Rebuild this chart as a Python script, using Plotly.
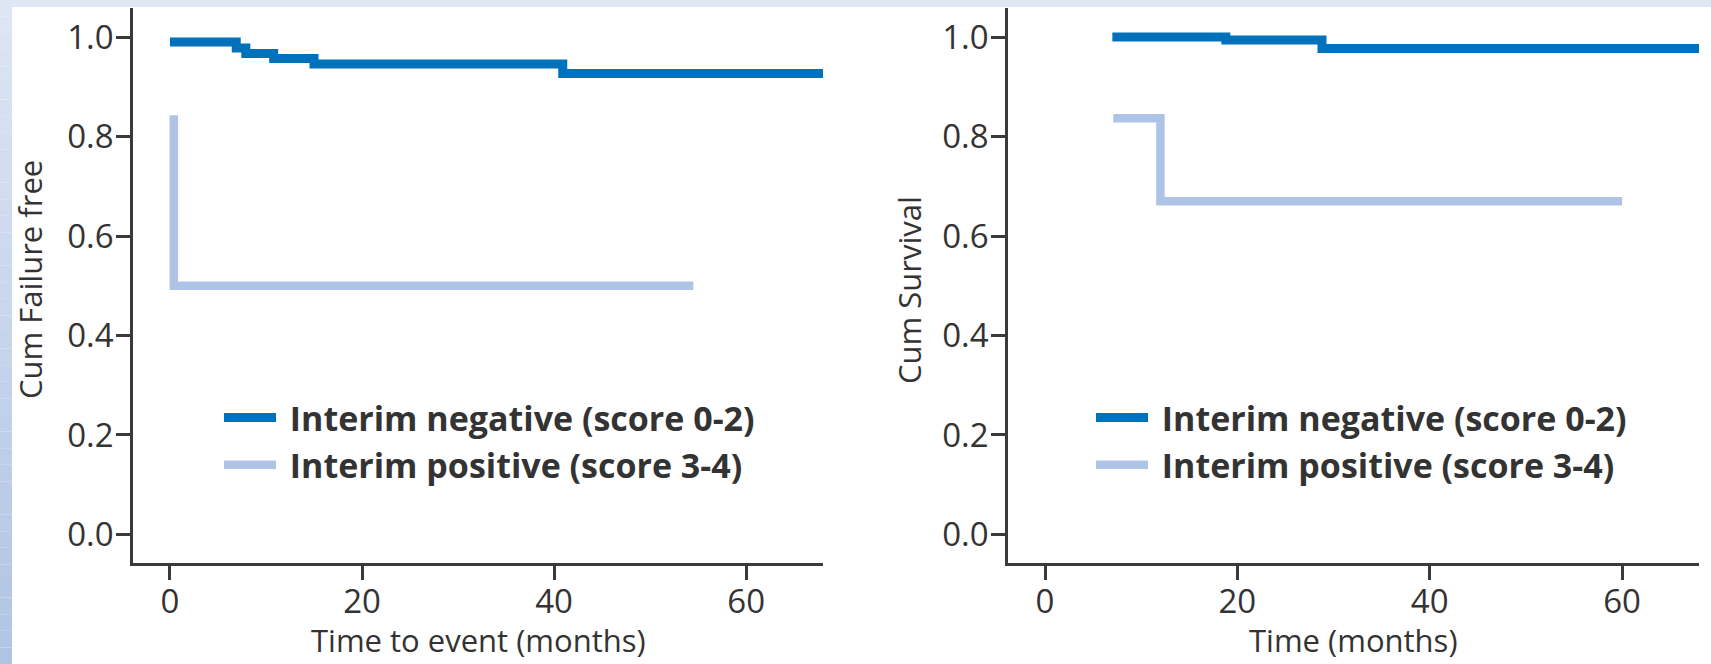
import plotly.graph_objects as go

# ---------------- data ----------------
# Left panel: Cum Failure free vs Time to event (months)
left_neg_t = [0.0, 6.9, 7.9, 10.8, 15.0, 40.9, 68.0]
left_neg_s = [0.990, 0.978, 0.967, 0.957, 0.946, 0.927, 0.927]
left_pos_t = [0.4, 0.4, 54.5]
left_pos_s = [0.843, 0.500, 0.500]

# Right panel: Cum Survival vs Time (months)
right_neg_t = [7.0, 18.8, 28.8, 69.3]
right_neg_s = [1.000, 0.994, 0.977, 0.977]
right_pos_t = [7.1, 12.0, 60.0]
right_pos_s = [0.837, 0.670, 0.670]

series_names = ["Interim negative (score 0-2)", "Interim positive (score 3-4)"]
x_ticks = [0, 20, 40, 60]
y_ticks = [0.0, 0.2, 0.4, 0.6, 0.8, 1.0]
y_tick_text = ["0.0", "0.2", "0.4", "0.6", "0.8", "1.0"]

# ---------------- style ----------------
W, H = 1711, 664
DARK = "#0071bb"
LIGHT = "#adc4e6"
AX = "#3a3a3a"
TXT = "#333333"
FONT = "Open Sans"
NB = "\u00a0"  # small gap between legend sample and label

def px_x(p):
    return p / W

def px_y(p):
    return 1 - p / H

fig = go.Figure()

fig.add_trace(go.Scatter(x=left_neg_t, y=left_neg_s, mode="lines", line=dict(color=DARK, width=9, shape="hv"),
                         name=NB + series_names[0], xaxis="x", yaxis="y", legend="legend"))
fig.add_trace(go.Scatter(x=left_pos_t, y=left_pos_s, mode="lines", line=dict(color=LIGHT, width=8.5, shape="hv"),
                         name=NB + series_names[1], xaxis="x", yaxis="y", legend="legend"))
fig.add_trace(go.Scatter(x=right_neg_t, y=right_neg_s, mode="lines", line=dict(color=DARK, width=9, shape="hv"),
                         name=NB + series_names[0], xaxis="x2", yaxis="y2", legend="legend2"))
fig.add_trace(go.Scatter(x=right_pos_t, y=right_pos_s, mode="lines", line=dict(color=LIGHT, width=8.5, shape="hv"),
                         name=NB + series_names[1], xaxis="x2", yaxis="y2", legend="legend2"))

y_dom = [px_y(563), px_y(8)]
common_x = dict(range=[-3.85, 68.0], tickvals=x_ticks, showline=True, linecolor=AX, linewidth=2.5,
                ticks="outside", ticklen=14, tickwidth=2.5, tickcolor=AX, showgrid=False, zeroline=False,
                tickfont=dict(family=FONT, size=33, color=TXT), ticklabelstandoff=-6, automargin=False,
                fixedrange=True)
common_y = dict(range=[-0.0575, 1.0585], tickvals=y_ticks, ticktext=y_tick_text, showline=True, linecolor=AX,
                linewidth=2.5, ticks="outside", ticklen=14, tickwidth=2.5, tickcolor=AX, showgrid=False,
                zeroline=False, tickfont=dict(family=FONT, size=33, color=TXT), ticklabelstandoff=-4,
                automargin=False, domain=y_dom, fixedrange=True)

legend_common = dict(font=dict(family=FONT, size=34, color=TXT, weight="bold"), bgcolor="rgba(0,0,0,0)",
                     xanchor="left", yanchor="top", itemwidth=52, tracegroupgap=0)

fig.update_layout(
    width=W, height=H,
    margin=dict(l=0, r=0, t=0, b=0),
    paper_bgcolor="white", plot_bgcolor="white",
    xaxis=dict(domain=[px_x(133), px_x(823)], anchor="y", **common_x),
    yaxis=dict(anchor="x", **common_y),
    xaxis2=dict(domain=[px_x(1008), px_x(1699)], anchor="y2", **common_x),
    yaxis2=dict(anchor="x2", **common_y),
    legend=dict(x=px_x(219), y=px_y(389), **legend_common),
    legend2=dict(x=px_x(1091), y=px_y(389), **legend_common),
    showlegend=True,
)

# axis titles as annotations
ann = [
    dict(text="Cum Failure free", x=px_x(30), y=px_y(280), textangle=-90),
    dict(text="Cum Survival", x=px_x(909), y=px_y(290), textangle=-90),
    dict(text="Time to event (months)", x=px_x(478), y=px_y(640), textangle=0),
    dict(text="Time (months)", x=px_x(1353), y=px_y(640), textangle=0),
]
for a in ann:
    fig.add_annotation(xref="paper", yref="paper", xanchor="center", yanchor="middle", showarrow=False,
                       font=dict(family=FONT, size=31, color=TXT), **a)

# decorative page frame: top strip + left gradient strip
shapes = [dict(type="rect", xref="paper", yref="paper", x0=0, x1=1, y0=px_y(7), y1=1,
               fillcolor="#dfe6f4", line_width=0, layer="below")]
top_c = (222, 229, 243)
bot_c = (176, 196, 228)
n = 40
for i in range(n):
    f = i / (n - 1)
    c = tuple(int(round(top_c[k] + (bot_c[k] - top_c[k]) * f)) for k in range(3))
    shapes.append(dict(type="rect", xref="paper", yref="paper", x0=0, x1=px_x(12),
                       y0=1 - (i + 1) / n, y1=1 - i / n, fillcolor="rgb(%d,%d,%d)" % c,
                       line_width=0, layer="below"))
fig.update_layout(shapes=shapes)

fig.write_html("out.html", config={"displayModeBar": False},
               post_script="document.body.style.margin='0';document.body.style.overflow='hidden';")
